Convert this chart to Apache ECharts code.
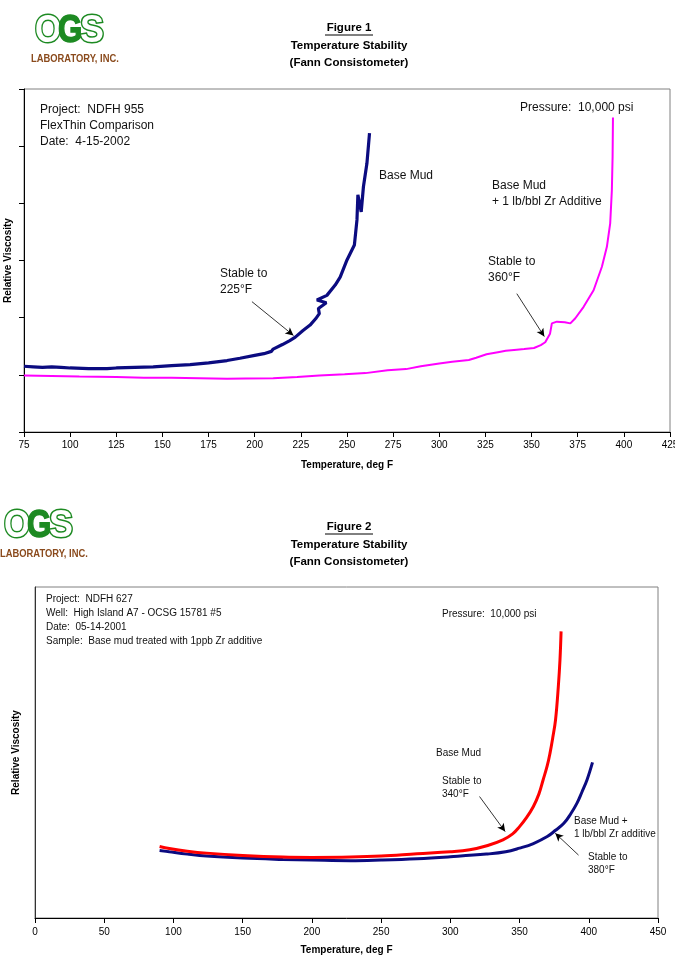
<!DOCTYPE html>
<html>
<head>
<meta charset="utf-8">
<script src="https://cdn.jsdelivr.net/npm/echarts@6/dist/echarts.min.js"></script>
<style>
  html, body { margin: 0; padding: 0; background: #fff; }
  #chart { width: 675px; height: 971px; }
</style>
</head>
<body>
<div id="chart"></div>
<script>
// Figure 1 - temperature (deg F) vs relative viscosity
const fig1BaseMud = [
  [75, 1.15], [80, 1.14], [85, 1.13], [90, 1.14], [95, 1.13], [100, 1.12], [110, 1.11],
  [120, 1.11], [125, 1.12], [135, 1.13], [145, 1.14], [155, 1.16], [165, 1.18], [175, 1.21],
  [185, 1.25], [192, 1.29], [200, 1.34], [205, 1.37], [209, 1.41], [210, 1.45], [211, 1.47],
  [215, 1.53], [219, 1.6], [222, 1.66], [226, 1.77], [230, 1.87], [233, 1.98], [235, 2.07],
  [234.5, 2.16], [238.8, 2.26], [233.7, 2.31], [239.1, 2.39], [243.6, 2.57], [246.3, 2.71],
  [250, 3.01], [254, 3.27], [255.4, 3.71], [255.9, 4.15], [257.7, 3.85], [258.9, 4.29],
  [260.8, 4.7], [262.2, 5.23]
];
const fig1ZrMud = [
  [75, 0.99], [90, 0.98], [105, 0.97], [125, 0.96], [140, 0.95], [155, 0.95], [170, 0.94],
  [185, 0.93], [195, 0.935], [210, 0.94], [223, 0.96], [235, 0.99], [248.7, 1.01], [260, 1.03],
  [272, 1.08], [282, 1.1], [290, 1.15], [300, 1.2], [307, 1.23], [316, 1.26], [320, 1.3],
  [325.6, 1.36], [332.5, 1.4], [336, 1.42], [342, 1.44], [346, 1.45], [351.3, 1.47], [355, 1.52],
  [357.4, 1.57], [360, 1.72], [361, 1.9], [363.7, 1.93], [368, 1.92], [371, 1.9], [373.7, 1.99],
  [378.2, 2.19], [383.6, 2.48], [388.1, 2.89], [390.8, 3.24], [392.6, 3.65], [393.5, 4.23],
  [393.9, 4.82], [394.1, 5.5]
];
const fig1ArrowBase = [[198.5, 2.28], [221, 1.69]];
const fig1ArrowZr = [[342, 2.42], [356.9, 1.67]];

// Figure 2
const fig2BaseMud = [
  [90, 21.6], [97, 21.0], [110, 20.2], [124, 19.6], [150, 18.9], [179, 18.4], [200, 18.3],
  [228, 18.4], [250, 18.7], [276, 19.4], [300, 20.0], [314, 20.6], [327, 21.9], [338, 23.6],
  [345, 25.4], [350, 27.6], [355, 30.3], [360, 33.7], [364, 37.5], [367, 41.7], [370, 46],
  [372, 49.8], [374, 54.5], [376, 59.9], [378, 69.9], [379.2, 78], [380, 86.6]
];
const fig2ZrMud = [
  [90, 20.4], [97, 20.0], [110, 19.3], [124, 18.7], [150, 18.1], [179, 17.7], [200, 17.5],
  [228, 17.3], [250, 17.5], [276, 17.9], [300, 18.5], [326, 19.3], [340, 20.0], [350, 21.1],
  [360, 22.5], [370, 24.6], [376, 26.5], [382, 28.6], [387, 31.5], [391.5, 34.7], [395, 38],
  [398.7, 41.7], [402.7, 47.0]
];
const fig2ArrowBase = [[321.1, 36.7], [339.6, 26.1]];
const fig2ArrowZr = [[392.6, 19.0], [375.8, 25.6]];

const FONT = '"Liberation Sans", Arial, sans-serif';

const chart = echarts.init(document.getElementById('chart'), null, { renderer: 'canvas' });

function arrowLine(pts) {
  return [{ coord: pts[0] }, { coord: pts[1] }];
}

function markArrows(list) {
  return {
    silent: true,
    symbol: ['none', 'arrow'],
    symbolSize: [6, 8],
    label: { show: false },
    lineStyle: { color: '#000', width: 0.8, type: 'solid' },
    emphasis: { disabled: true },
    data: list.map(arrowLine)
  };
}

// company logo built from text shapes
function logo(dx, dy) {
  const green = '#1d8a22';
  const bigFont = 'bold 39px ' + FONT;
  return [
    { type: 'text', x: dx + 35, y: dy + 31, scaleX: 0.86,
      style: { text: 'O', font: bigFont, fill: '#fff', stroke: green, lineWidth: 3, verticalAlign: 'middle' } },
    { type: 'text', x: dx + 80, y: dy + 31, scaleX: 0.92,
      style: { text: 'S', font: bigFont, fill: '#fff', stroke: green, lineWidth: 3, verticalAlign: 'middle' } },
    { type: 'text', x: dx + 58, y: dy + 31, scaleX: 0.8,
      style: { text: 'G', font: bigFont, fill: green, stroke: green, lineWidth: 1.5, verticalAlign: 'middle' } },
    { type: 'text', x: dx + 31, y: dy + 58.7, scaleX: 0.92,
      style: { text: 'LABORATORY, INC.', font: 'bold 10.2px ' + FONT, fill: '#8a4a1c', verticalAlign: 'middle' } }
  ];
}

function titleBlock(label, cy) {
  return [
    { type: 'text', x: 349, y: cy,
      style: { text: label, font: 'bold 11.5px ' + FONT, fill: '#000', align: 'center', verticalAlign: 'middle' } },
    { type: 'line', shape: { x1: 325, y1: cy + 7, x2: 373, y2: cy + 7 }, style: { stroke: '#000', lineWidth: 1 } },
    { type: 'text', x: 349, y: cy + 18,
      style: { text: 'Temperature Stability', font: 'bold 11.5px ' + FONT, fill: '#000', align: 'center', verticalAlign: 'middle' } },
    { type: 'text', x: 349, y: cy + 35,
      style: { text: '(Fann Consistometer)', font: 'bold 11.5px ' + FONT, fill: '#000', align: 'center', verticalAlign: 'middle' } }
  ];
}

function note(x, y, text, size, lh) {
  return {
    type: 'text', x: x, y: y,
    style: { text: text, font: size + 'px ' + FONT, fill: '#111', verticalAlign: 'top', lineHeight: lh }
  };
}

const axisName = { fontFamily: FONT, fontSize: 10, fontWeight: 'bold', color: '#000' };

const option = {
  backgroundColor: '#fff',
  animation: false,
  grid: [
    { left: 24, top: 89, width: 646, height: 343, show: true, borderColor: '#808080', borderWidth: 1,
      containLabel: false, outerBoundsMode: 'none' },
    { left: 35, top: 587, width: 623, height: 331, show: true, borderColor: '#808080', borderWidth: 1,
      containLabel: false, outerBoundsMode: 'none' }
  ],
  xAxis: [
    {
      type: 'value', gridIndex: 0, min: 75, max: 425, interval: 25,
      name: 'Temperature, deg F', nameLocation: 'middle', nameGap: 28, nameTextStyle: axisName,
      axisLine: { lineStyle: { color: '#000', width: 1 } },
      axisTick: { show: true, length: 5, lineStyle: { color: '#000' } },
      axisLabel: { fontFamily: FONT, fontSize: 10, color: '#000', margin: 8 },
      splitLine: { show: false }
    },
    {
      type: 'value', gridIndex: 1, min: 0, max: 450, interval: 50,
      name: 'Temperature, deg F', nameLocation: 'middle', nameGap: 27, nameTextStyle: axisName,
      axisLine: { lineStyle: { color: '#000', width: 1 } },
      axisTick: { show: true, length: 5, lineStyle: { color: '#000' } },
      axisLabel: { fontFamily: FONT, fontSize: 10, color: '#000', margin: 9 },
      splitLine: { show: false }
    }
  ],
  yAxis: [
    {
      type: 'value', gridIndex: 0, min: 0, max: 6, interval: 1,
      name: 'Relative Viscosity', nameLocation: 'middle', nameGap: 11, nameRotate: 90, nameTextStyle: axisName,
      axisLine: { show: true, lineStyle: { color: '#000', width: 1 } },
      axisTick: { show: true, length: 5, lineStyle: { color: '#000' } },
      axisLabel: { show: false },
      splitLine: { show: false }
    },
    {
      type: 'value', gridIndex: 1, min: 0, max: 100, interval: 20,
      name: 'Relative Viscosity', nameLocation: 'middle', nameGap: 14, nameRotate: 90, nameTextStyle: axisName,
      axisLine: { show: true, lineStyle: { color: '#333', width: 1 } },
      axisTick: { show: false },
      axisLabel: { show: false },
      splitLine: { show: false }
    }
  ],
  series: [
    {
      name: 'Base Mud', type: 'line', xAxisIndex: 0, yAxisIndex: 0,
      data: fig1BaseMud, showSymbol: false, smooth: false,
      lineStyle: { color: '#0b0b80', width: 3.2 }, z: 3,
      markLine: markArrows([fig1ArrowBase, fig1ArrowZr])
    },
    {
      name: 'Base Mud + 1 lb/bbl Zr Additive', type: 'line', xAxisIndex: 0, yAxisIndex: 0,
      data: fig1ZrMud, showSymbol: false, smooth: false,
      lineStyle: { color: '#ff00ff', width: 2 }, z: 2
    },
    {
      name: 'Base Mud ', type: 'line', xAxisIndex: 1, yAxisIndex: 1,
      data: fig2BaseMud, showSymbol: false, smooth: 0.4,
      lineStyle: { color: '#ff0000', width: 3 }, z: 3,
      markLine: markArrows([fig2ArrowBase, fig2ArrowZr])
    },
    {
      name: 'Base Mud + 1 lb/bbl Zr additive', type: 'line', xAxisIndex: 1, yAxisIndex: 1,
      data: fig2ZrMud, showSymbol: false, smooth: 0.4,
      lineStyle: { color: '#0b0b80', width: 3 }, z: 2
    }
  ],
  graphic: [].concat(
    logo(0, 0),
    logo(-31, 495),
    titleBlock('Figure 1', 28),
    titleBlock('Figure 2', 527),
    [
      note(40, 102, 'Project:  NDFH 955\nFlexThin Comparison\nDate:  4-15-2002', 12, 15.7),
      note(520, 100, 'Pressure:  10,000 psi', 12, 15),
      note(379, 168, 'Base Mud', 12, 15),
      note(492, 178, 'Base Mud\n+ 1 lb/bbl Zr Additive', 12, 15.7),
      note(488, 254, 'Stable to\n360\u00b0F', 12, 16),
      note(220, 265, 'Stable to\n225\u00b0F', 12, 16.5),

      note(46, 592, 'Project:  NDFH 627\nWell:  High Island A7 - OCSG 15781 #5\nDate:  05-14-2001\nSample:  Base mud treated with 1ppb Zr additive', 10, 14),
      note(442, 607, 'Pressure:  10,000 psi', 10, 14),
      note(436, 746, 'Base Mud', 10, 14),
      note(442, 774, 'Stable to\n340\u00b0F', 10, 13.5),
      note(574, 815, 'Base Mud +\n1 lb/bbl Zr additive', 10, 12.5),
      note(588, 851, 'Stable to\n380\u00b0F', 10, 13)
    ]
  )
};

chart.setOption(option);
</script>
</body>
</html>
